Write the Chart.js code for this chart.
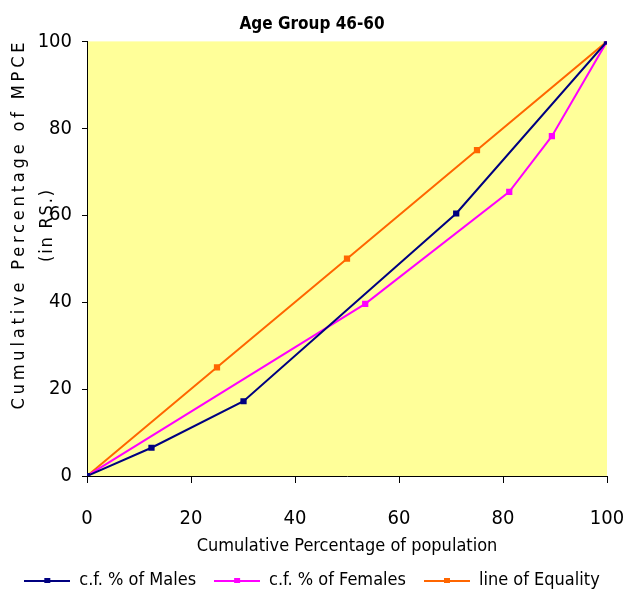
<!DOCTYPE html>
<html>
<head>
<meta charset="utf-8">
<script src="https://cdn.jsdelivr.net/npm/chart.js@4"></script>
<style>
  body { margin: 0; background: #fff; }
  canvas { display: block; }
</style>
</head>
<body>
<canvas id="lorenz" width="624" height="593"></canvas>
<script>
// condensed face picked through the font shorthand (weight slot carries the stretch keyword)
const FONT = "'DejaVu Sans', sans-serif";
const NORMAL = 'condensed';
const BOLD = 'bold condensed';

// data (x = cum. % of population, y = cum. % of MPCE)
const malesX = [0, 12.4, 30.1, 71, 100];
const malesY = [0, 6.5, 17.2, 60.4, 100];
const femalesX = [0, 53.5, 81.2, 89.4, 100];
const femalesY = [0, 39.6, 65.4, 78.2, 100];
const equalX = [0, 25, 50, 75, 100];
const equalY = [0, 25, 50, 75, 100];
const seriesNames = ["c.f. % of Males", "c.f. % of Females", "line of Equality"];
const seriesColors = ["#000080", "#FF00FF", "#FF6600"];
const xTicks = [0, 20, 40, 60, 80, 100];
const yTicks = [0, 20, 40, 60, 80, 100];

const toPoints = (xs, ys) => xs.map((x, i) => ({x: x, y: ys[i]}));

// legend icon: short line with a small square in the middle
function legendIcon(color) {
    const c = document.createElement('canvas');
    c.width = 46; c.height = 8;
    const g = c.getContext('2d');
    g.strokeStyle = color;
    g.lineWidth = 2;
    g.beginPath(); g.moveTo(0, 5); g.lineTo(46, 5); g.stroke();
    g.fillStyle = color;
    g.fillRect(20, 2, 6, 5);
    return c;
}
const icons = seriesColors.map(legendIcon);

let xScaleH = 80;

const plotBg = {
    id: 'plotBg',
    beforeDraw(chart) {
        const {ctx, chartArea: a} = chart;
        ctx.save();
        ctx.fillStyle = '#FFFF99';
        ctx.fillRect(a.left, a.top, a.right - a.left, a.bottom - a.top);
        ctx.restore();
    }
};

// y title with the wide letter spacing of the original
const yTitle = {
    id: 'yTitle',
    afterDraw(chart) {
        const ctx = chart.ctx;
        const lines = [
            {text: "Cumulative Percentage of MPCE", x: 19, len: 367},
            {text: "(in RS.)", x: 47, len: 72}
        ];
        ctx.save();
        ctx.fillStyle = '#000';
        ctx.font = "condensed 18px " + FONT;
        lines.forEach(l => {
            ctx.letterSpacing = '0px';
            const w = ctx.measureText(l.text).width;
            const sp = Math.max(0, (l.len - w) / (l.text.length - 1));
            ctx.letterSpacing = sp + 'px';
            ctx.save();
            ctx.translate(l.x, 226);
            ctx.rotate(-Math.PI / 2);
            ctx.textAlign = 'center';
            ctx.textBaseline = 'middle';
            ctx.fillText(l.text, sp / 2, 0);
            ctx.restore();
        });
        ctx.restore();
    }
};

const makeSet = (i, xs, ys) => ({
    label: seriesNames[i],
    data: toPoints(xs, ys),
    borderColor: seriesColors[i],
    backgroundColor: seriesColors[i],
    borderWidth: 2,
    pointStyle: 'rect',
    pointRadius: 3,
    pointHoverRadius: 3,
    tension: 0
});

const chart = new Chart(document.getElementById('lorenz'), {
    type: 'line',
    data: {
        datasets: [
            makeSet(0, malesX, malesY),
            makeSet(1, femalesX, femalesY),
            makeSet(2, equalX, equalY)
        ]
    },
    options: {
        responsive: false,
        animation: false,
        layout: {padding: {left: 0, right: 0, top: 0, bottom: 0}},
        plugins: {
            title: {
                display: true,
                text: 'Age Group 46-60',
                color: '#000',
                font: {family: FONT, size: 17, weight: BOLD},
                padding: {top: 14, bottom: 7}
            },
            legend: {
                position: 'bottom',
                labels: {
                    color: '#000',
                    font: {family: FONT, size: 18, weight: NORMAL},
                    usePointStyle: true,
                    pointStyleWidth: 46,
                    padding: 18,
                    generateLabels(chart) {
                        const items = Chart.defaults.plugins.legend.labels.generateLabels(chart);
                        return items.map((it, i) => Object.assign(it, {pointStyle: icons[i]}));
                    }
                }
            },
            tooltip: {enabled: false}
        },
        scales: {
            x: {
                type: 'linear',
                min: 0, max: 100,
                afterBuildTicks(scale) { scale.ticks = xTicks.map(v => ({value: v})); },
                afterFit(scale) { scale.height = xScaleH; scale.paddingRight = 17; },
                ticks: {color: '#000', font: {family: FONT, size: 20, weight: NORMAL}, padding: 24},
                grid: {drawOnChartArea: false, drawTicks: true, tickLength: 7, color: '#000'},
                border: {color: '#000', width: 1},
                title: {
                    display: true,
                    text: 'Cumulative Percentage of population',
                    color: '#000',
                    font: {family: FONT, size: 18, weight: NORMAL},
                    padding: {top: 0, bottom: -4}
                }
            },
            y: {
                min: 0, max: 100,
                afterBuildTicks(scale) { scale.ticks = yTicks.map(v => ({value: v})); },
                afterFit(scale) { scale.width = 87; },
                ticks: {color: '#000', font: {family: FONT, size: 20, weight: NORMAL}, padding: 10},
                grid: {drawOnChartArea: false, drawTicks: true, tickLength: 5, color: '#000'},
                border: {color: '#000', width: 1}
            }
        }
    },
    plugins: [plotBg, yTitle]
});

// place the legend row and the plot bottom where the original has them
const box = chart.legend.legendHitBoxes[0];
chart.options.layout.padding.bottom = -(580 - (box.top + box.height / 2));
chart.update();
xScaleH -= 476 - chart.chartArea.bottom;
chart.update();
</script>
</body>
</html>
